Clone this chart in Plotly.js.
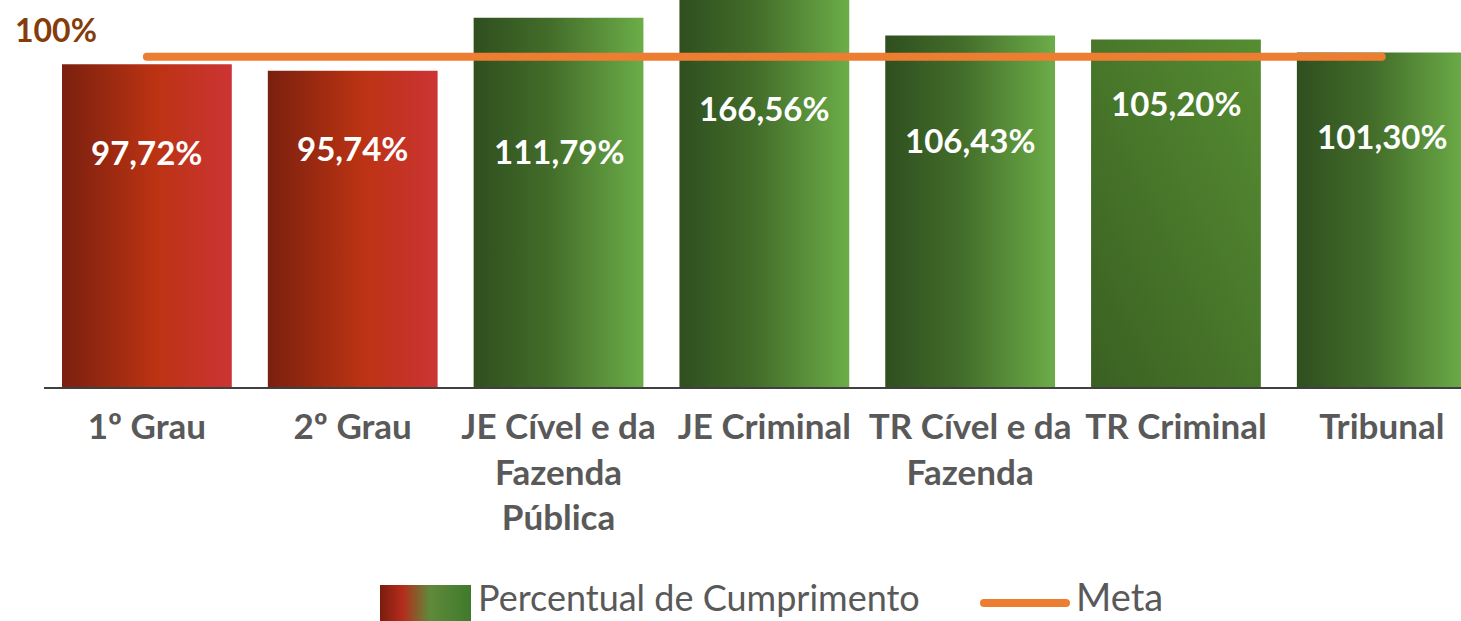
<!DOCTYPE html>
<html>
<head>
<meta charset="utf-8">
<script src="https://cdn.plot.ly/plotly-3.0.1.min.js"></script>
<style>
  html, body { margin: 0; padding: 0; background: #ffffff; }
  #chart { width: 1461px; height: 621px; }
</style>
</head>
<body>
<div id="chart"></div>
<script>
// ---------- data ----------
const categories = ['1º Grau', '2º Grau', 'JE Cível e da Fazenda Pública', 'JE Criminal', 'TR Cível e da Fazenda', 'TR Criminal', 'Tribunal'];
const tickLabels = ['1º Grau', '2º Grau', 'JE Cível e da<br>Fazenda<br>Pública', 'JE Criminal', 'TR Cível e da<br>Fazenda', 'TR Criminal', 'Tribunal'];
const percentual = [97.72, 95.74, 111.79, 166.56, 106.43, 105.20, 101.30];
const meta = [100, 100, 100, 100, 100, 100, 100];
const seriesNames = ['Percentual de Cumprimento', 'Meta'];

// ---------- style ----------
const FONT = 'Lato, "Open Sans", sans-serif';
const plotLeft = 44, plotWidth = 1417, plotBottom = 387, plotHeight = 387;
const px2x = px => (px - plotLeft) / plotWidth;
const px2y = py => (plotBottom - py) / plotHeight;
// vertical position (in axis units) of each value label inside its bar
const labelY = [71.2, 72.3, 71.5, 84.4, 74.8, 85.9, 75.9];
const barGradients = ['gradRed', 'gradRed', 'gradGreen', 'gradGreen', 'gradGreen', 'gradGreenDiag', 'gradGreen'];
const fmt = v => v.toFixed(2).replace('.', ',') + '%';

const barTrace = {
  type: 'bar',
  name: seriesNames[0],
  x: categories,
  y: percentual,
  marker: { color: percentual.map((v, i) => v < meta[i] ? '#b02e16' : '#4a7a2e'), line: { width: 0 } },
  hoverinfo: 'x+y',
  showlegend: false
};
const metaTrace = {
  type: 'scatter',
  mode: 'lines',
  name: seriesNames[1],
  x: categories,
  y: meta,
  line: { color: '#ED7D31', width: 8 },
  showlegend: false
};

const annotations = percentual.map((v, i) => ({
  x: categories[i], y: labelY[i], xref: 'x', yref: 'y',
  text: fmt(v), showarrow: false, xanchor: 'center', yanchor: 'middle',
  font: { family: FONT, size: 33, color: '#ffffff', weight: 700 }
}));
annotations.push({
  xref: 'paper', yref: 'y', x: px2x(13), y: meta[0], yshift: 27,
  xanchor: 'left', yanchor: 'middle', showarrow: false,
  text: meta[0] + '%',
  font: { family: FONT, size: 32, color: '#843C0C', weight: 700 }
});
annotations.push({
  xref: 'paper', yref: 'paper', x: px2x(476), y: px2y(621),
  xanchor: 'left', yanchor: 'bottom', showarrow: false,
  text: seriesNames[0],
  font: { family: FONT, size: 36, color: '#595959' }
});
annotations.push({
  xref: 'paper', yref: 'paper', x: px2x(1074), y: px2y(621),
  xanchor: 'left', yanchor: 'bottom', showarrow: false,
  text: seriesNames[1],
  font: { family: FONT, size: 38, color: '#595959' }
});

const shapes = [
  { type: 'rect', xref: 'paper', yref: 'paper', x0: px2x(380), x1: px2x(471), y0: px2y(585), y1: px2y(621),
    fillcolor: '#8a5a2a', line: { width: 0 }, layer: 'above' },
  { type: 'line', xref: 'paper', yref: 'paper', x0: px2x(984), x1: px2x(1066), y0: px2y(603), y1: px2y(603),
    line: { color: '#ED7D31', width: 8 }, layer: 'above' }
];

const layout = {
  width: 1461, height: 621,
  margin: { l: plotLeft, r: 1461 - plotLeft - plotWidth, t: 0, b: 621 - plotBottom, pad: 0 },
  paper_bgcolor: '#ffffff', plot_bgcolor: '#ffffff',
  bargap: 0.175,
  showlegend: false,
  xaxis: {
    type: 'category',
    range: [-0.5, 6.385],
    tickvals: categories, ticktext: tickLabels,
    showline: true, linecolor: '#404040', linewidth: 2,
    ticks: '', showgrid: false, zeroline: false,
    tickfont: { family: FONT, size: 35, color: '#595959', weight: 700 },
    ticklabelstandoff: 8
  },
  yaxis: {
    range: [0, 117.17],
    showticklabels: false, showgrid: false, zeroline: false, showline: false, ticks: ''
  },
  annotations: annotations,
  shapes: shapes
};

Plotly.newPlot('chart', [barTrace, metaTrace], layout, { displayModeBar: false, staticPlot: true }).then(gd => {
  const NS = 'http://www.w3.org/2000/svg';
  const svg = gd.querySelector('.main-svg');
  const defs = document.createElementNS(NS, 'defs');
  function grad(id, stops, x1, y1, x2, y2) {
    const g = document.createElementNS(NS, 'linearGradient');
    g.setAttribute('id', id);
    g.setAttribute('x1', x1); g.setAttribute('y1', y1);
    g.setAttribute('x2', x2); g.setAttribute('y2', y2);
    stops.forEach(([o, c]) => {
      const s = document.createElementNS(NS, 'stop');
      s.setAttribute('offset', o); s.setAttribute('stop-color', c);
      g.appendChild(s);
    });
    defs.appendChild(g);
  }
  grad('gradRed', [[0, '#7a200f'], [0.55, '#bb3313'], [1, '#cc3434']], 0, 0, 1, 0);
  grad('gradGreen', [[0, '#2f4f1f'], [0.45, '#436d2a'], [1, '#6cad48']], 0, 0, 1, 0);
  grad('gradGreenDiag', [[0, '#3a6022'], [1, '#568d32']], 0, 1, 1, 0);
  grad('gradLegend', [[0, '#7a1d0e'], [0.25, '#b42c1c'], [0.55, '#5f8a3a'], [1, '#3f7a2c']], 0, 0, 1, 0);
  svg.insertBefore(defs, svg.firstChild);

  gd.querySelectorAll('.trace.bars .point path').forEach((p, i) => {
    p.style.fill = 'url(#' + barGradients[i] + ')';
  });
  gd.querySelectorAll('.scatterlayer .js-line').forEach(p => { p.style.strokeLinecap = 'round'; });
  gd.querySelectorAll('.shapelayer path').forEach(p => {
    const idx = p.getAttribute('data-index');
    if (idx === '0') p.style.fill = 'url(#gradLegend)';
    if (idx === '1') p.style.strokeLinecap = 'round';
  });
});
</script>
</body>
</html>
